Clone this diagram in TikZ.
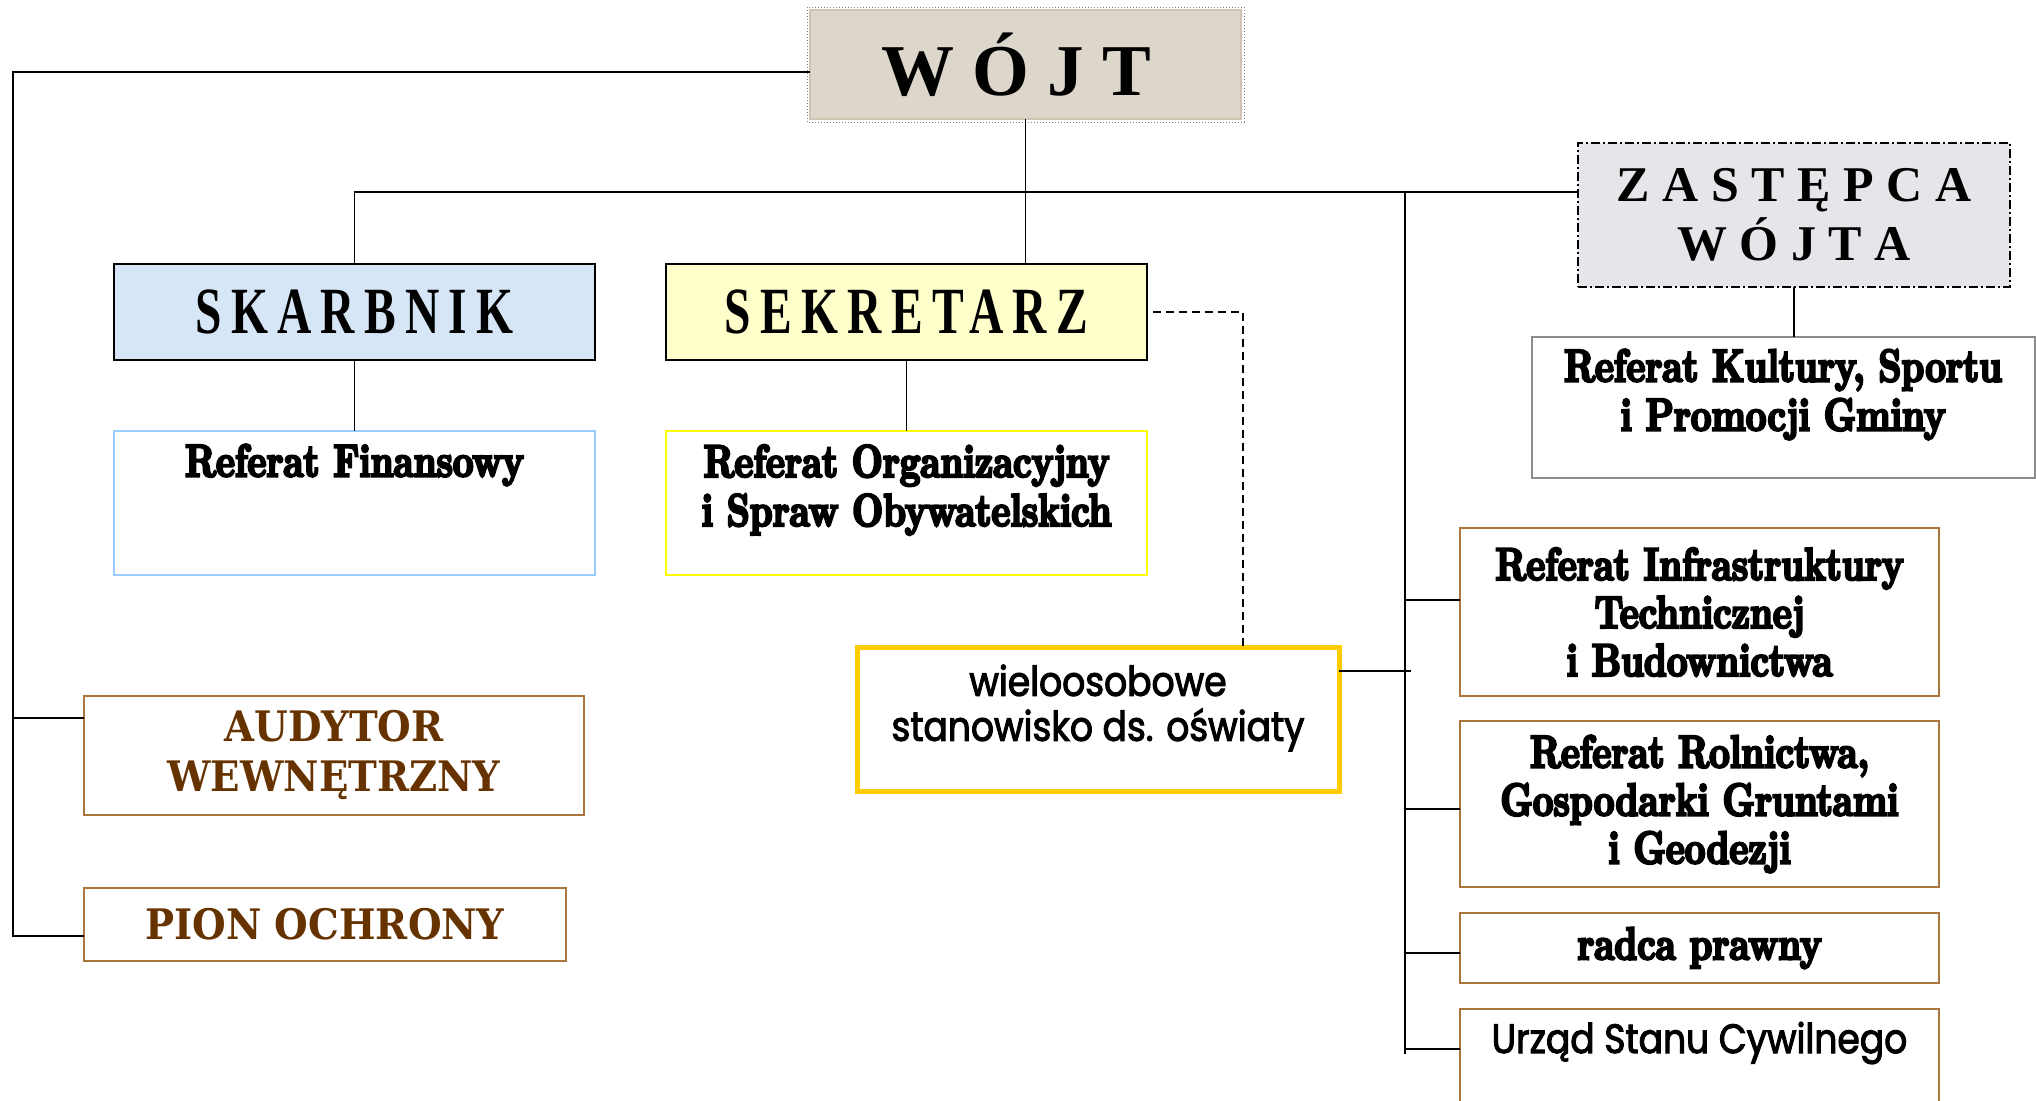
\documentclass[tikz,border=0pt]{standalone}
\usepackage{fontspec}
\setmainfont{Latin Modern Roman}
\newfontfamily\fatface{lmroman10-bold.otf}[FakeStretch=0.78, FakeBold=5]
\newfontfamily\timesf{Liberation Serif}
\newfontfamily\condf{Liberation Serif}[FakeStretch=0.72, LetterSpace=14]
\newfontfamily\slabf{DejaVu Serif}[FakeStretch=0.92]
\newfontfamily\gothf{Poppins}[FakeStretch=0.88, FakeBold=2.5]
\definecolor{wojtfill}{HTML}{DDD6CA}
\definecolor{wojtline}{HTML}{CFC4B2}
\definecolor{zastfill}{HTML}{E6E6EA}
\definecolor{skfill}{HTML}{D6E6F7}
\definecolor{sekfill}{HTML}{FFFFCC}
\definecolor{finline}{HTML}{99CCFF}
\definecolor{orgline}{HTML}{FFFF00}
\definecolor{wielline}{HTML}{FFCC00}
\definecolor{brownline}{HTML}{A8763E}
\definecolor{browntext}{HTML}{663300}
\definecolor{grayline}{HTML}{8C8C8C}
\tikzset{
  every node/.style={inner sep=0pt, outer sep=0pt},
  conn/.style={line width=1.6pt, draw=black},
  fat/.style={font=\fatface\fontsize{46}{49}\selectfont, align=center},
  cond/.style={font=\condf\bfseries\fontsize{66}{70}\selectfont},
  slab/.style={font=\slabf\bfseries\fontsize{42}{50}\selectfont, text=browntext, align=center},
  goth/.style={font=\gothf\fontsize{41}{45}\selectfont, align=center},
  brownbox/.style={draw=brownline, line width=2pt},
}
\begin{document}
\begin{tikzpicture}[x=1pt,y=-1pt]
\useasboundingbox (0,0) rectangle (2036,1100);
\clip (0,0) rectangle (2036,1100);

% top level
\node[draw=wojtline, fill=wojtfill, line width=1.5pt, minimum width=431pt, minimum height=109pt,
      font=\timesf\bfseries\fontsize{73}{78}\selectfont] (wojt) at (1025.5,64.5) {W Ó J T\kern18pt};
\draw[gray, dotted, line width=1pt] ([shift={(-3,-3)}]wojt.north west) rectangle ([shift={(3,3)}]wojt.south east);

\node[draw=black, dash pattern=on 9pt off 3pt on 2pt off 3pt, line width=2pt, fill=zastfill,
      minimum width=432pt, minimum height=144pt, align=center,
      font=\timesf\bfseries\fontsize{50}{59}\selectfont] (zast) at (1794,215) {Z A S T Ę P C A\\W Ó J T A};

\node[draw=black, line width=2.5pt, fill=skfill, minimum width=481pt, minimum height=96pt, cond] (skarb) at (354.5,312) {SKARBNIK};
\node[draw=black, line width=2.5pt, fill=sekfill, minimum width=481pt, minimum height=96pt, cond] (sek) at (906.5,312) {SEKRETARZ};

% second level
\node[draw=finline, line width=2pt, minimum width=481pt, minimum height=144pt] (fin) at (354.5,503) {};
\node[fat] (fint) at (354.5,465) {Referat Finansowy};
\node[draw=orgline, line width=2pt, minimum width=481pt, minimum height=144pt] (org) at (906.5,503) {};
\node[fat] (orgt) at (906.5,490) {Referat Organizacyjny\\i Spraw Obywatelskich};
\node[draw=grayline, line width=2pt, minimum width=503pt, minimum height=141pt] (kult) at (1783,407.5) {};
\node[fat] (kultt) at (1783,394.5) {Referat Kultury, Sportu\\i Promocji Gminy};

% oswiata
\node[draw=wielline, line width=5pt, minimum width=482pt, minimum height=144pt] (wiel) at (1098,719) {};
\node[goth] (wielt) at (1098,708) {wieloosobowe\\stanowisko ds. oświaty};

% right column
\node[brownbox, minimum width=479pt, minimum height=168pt, fat, font=\fatface\fontsize{46}{48}\selectfont] (infra) at (1699.5,612) {Referat Infrastruktury\\Technicznej\\i Budownictwa};
\node[brownbox, minimum width=479pt, minimum height=166pt, fat, font=\fatface\fontsize{46}{48}\selectfont] (roln) at (1699.5,804) {Referat Rolnictwa,\\Gospodarki Gruntami\\i Geodezji};
\node[brownbox, minimum width=479pt, minimum height=70pt, fat] (radca) at (1699.5,948) {radca prawny};
\node[brownbox, minimum width=479pt, minimum height=160pt] (urzad) at (1699.5,1089) {};
\node[goth] (urzadt) at (1699.5,1043) {Urząd Stanu Cywilnego};

% left column
\node[brownbox, minimum width=500pt, minimum height=119pt, slab] (aud) at (334,755.5) {AUDYTOR\\WEWNĘTRZNY};
\node[brownbox, minimum width=482pt, minimum height=73pt, slab] (pion) at (325,924.5) {PION OCHRONY};

% connectors
\coordinate (busy) at (0,192);
\coordinate (lt) at (13,72);
\coordinate (rbot) at (1405,1054);
\coordinate (dashx) at (1243,0);
\draw[conn] (wojt.south) -- (wojt.south |- sek.north);
\draw[conn] (skarb.north) |- (zast.west |- busy);
\draw[conn] (skarb.south) -- (fin.north);
\draw[conn] (sek.south) -- (org.north);
\draw[conn] (zast.south) -- (zast.south |- kult.north);
\draw[conn] (wojt.west |- lt) -- (lt) |- ([yshift=-11.5pt]pion.west);
\draw[conn] ([yshift=37.5pt]aud.west -| lt) -- ([yshift=37.5pt]aud.west);
\draw[conn] (rbot |- busy) -- (rbot);
\draw[conn] ([yshift=12pt]infra.west) -- ([yshift=12pt]infra.west -| rbot);
\draw[conn] ([yshift=-5pt]roln.west) -- ([yshift=-5pt]roln.west -| rbot);
\draw[conn] ([yshift=-5pt]radca.west) -- ([yshift=-5pt]radca.west -| rbot);
\draw[conn] ([yshift=40pt]urzad.west) -- ([yshift=40pt]urzad.west -| rbot);
\draw[conn] ([yshift=48pt]wiel.east) -- ([yshift=48pt,xshift=6pt]wiel.east -| rbot);
\draw[line width=1.5pt, dash pattern=on 8pt off 5pt] ([xshift=6pt]sek.east) -| (wiel.north -| dashx);
\end{tikzpicture}
\end{document}
